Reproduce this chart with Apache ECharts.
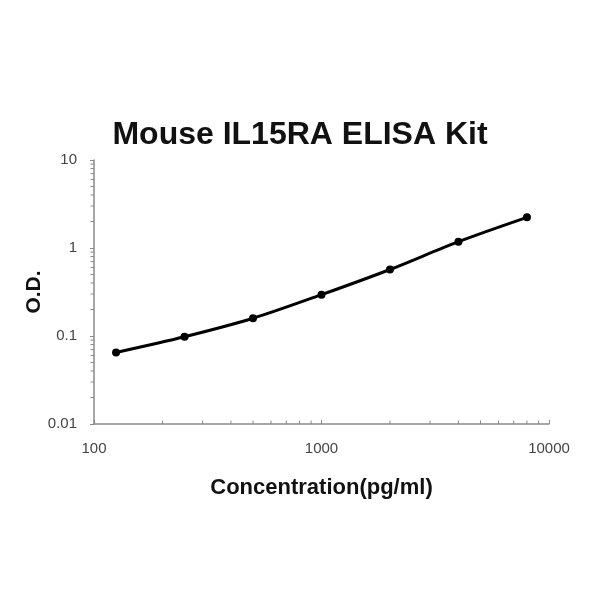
<!DOCTYPE html>
<html><head><meta charset="utf-8">
<script src="https://cdn.jsdelivr.net/npm/echarts@6/dist/echarts.min.js"></script>
<style>html,body{margin:0;padding:0;background:#fff}#c{width:600px;height:600px}</style>
</head><body><div id="c"></div>
<script>
var concentrations = [125, 250, 500, 1000, 2000, 4000, 8000];
var odValues = [0.065, 0.098, 0.159, 0.295, 0.57, 1.18, 2.23];
var xMinorTicks = [200,300,400,500,600,700,800,900,2000,3000,4000,5000,6000,7000,8000,9000];
var yMinorTicks = [0.02,0.03,0.04,0.05,0.06,0.07,0.08,0.09,0.2,0.3,0.4,0.5,0.6,0.7,0.8,0.9,2,3,4,5,6,7,8,9];
var titleText = 'Mouse IL15RA ELISA Kit';
var xName = 'Concentration(pg/ml)';
var yName = 'O.D.';

var pts = concentrations.map(function(c,i){return [c, odValues[i]];});
var chart = echarts.init(document.getElementById('c'), null, {renderer:'canvas'});
var axisColor = '#8a8a8a';
function fmt(v){return String(+(+v).toPrecision(6));}
chart.setOption({
  animation:false,
  backgroundColor:'#fff',
  title:{text:titleText,left:'center',top:114,textStyle:{fontFamily:'Liberation Sans',fontWeight:'bold',fontSize:32,color:'#111'}},
  grid:{left:94,right:51,top:160,bottom:176},
  xAxis:{type:'log',logBase:10,min:100,max:10000,
    name:xName,nameLocation:'middle',nameGap:53,
    nameTextStyle:{fontFamily:'Liberation Sans',fontWeight:'bold',fontSize:22,color:'#111'},
    axisLine:{lineStyle:{color:axisColor,width:1.5}},
    axisTick:{show:true,inside:true,length:4,lineStyle:{color:axisColor}},
    axisLabel:{fontFamily:'Liberation Sans',fontSize:15,color:'#444',margin:17,formatter:fmt},
    splitLine:{show:false}},
  yAxis:{type:'log',logBase:10,min:0.01,max:10,
    name:yName,nameLocation:'middle',nameGap:49,nameRotate:90,nameMoveOverlap:false,
    nameTextStyle:{fontFamily:'Liberation Sans',fontWeight:'bold',fontSize:21,color:'#111'},
    axisLine:{show:true,lineStyle:{color:axisColor,width:1.5}},
    axisTick:{show:true,inside:false,length:4,lineStyle:{color:axisColor}},
    axisLabel:{fontFamily:'Liberation Sans',fontSize:15,color:'#444',margin:17,formatter:fmt},
    splitLine:{show:false}},
  series:[
    {type:'custom',silent:true,clip:false,data:xMinorTicks.map(function(v){return [v,0.01];}),
      encode:{x:0,y:1},
      renderItem:function(params,api){var p=api.coord([api.value(0),0.01]);
        return {type:'line',shape:{x1:p[0],y1:p[1],x2:p[0],y2:p[1]-3.5},style:{stroke:axisColor,lineWidth:1}};}},
    {type:'custom',silent:true,clip:false,data:yMinorTicks.map(function(v){return [100,v];}),
      encode:{x:0,y:1},
      renderItem:function(params,api){var p=api.coord([100,api.value(1)]);
        return {type:'line',shape:{x1:p[0],y1:p[1],x2:p[0]-3.5,y2:p[1]},style:{stroke:axisColor,lineWidth:1}};}},
    {type:'line',data:pts,smooth:0.3,symbol:'circle',symbolSize:8,
      lineStyle:{color:'#000',width:3},itemStyle:{color:'#000'}}
  ]
});
</script></body></html>
